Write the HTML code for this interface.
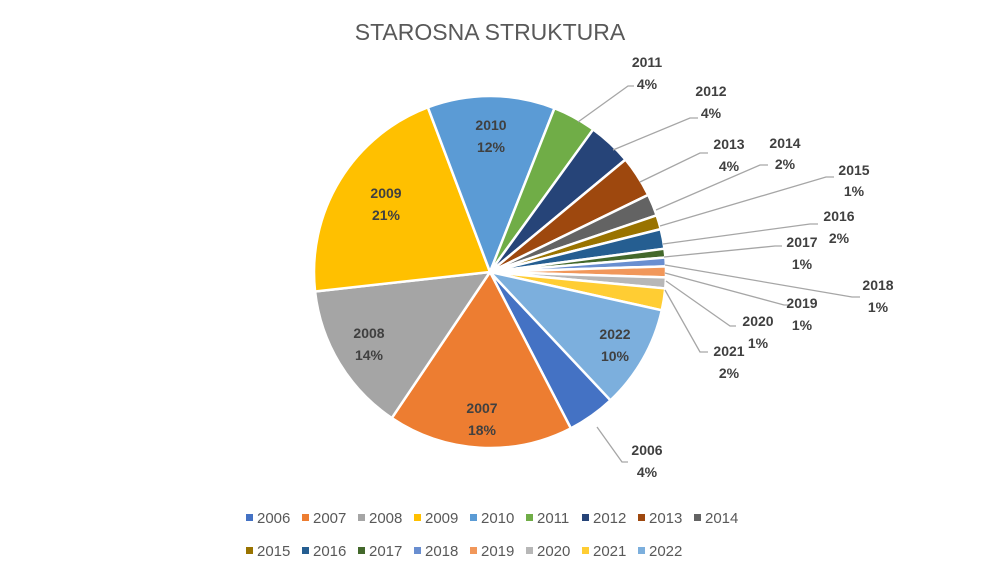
<!DOCTYPE html>
<html><head><meta charset="utf-8"><style>
body{margin:0;background:#fff;}
svg text{font-family:"Liberation Sans",sans-serif;}
</style></head><body>
<svg id="s" width="985" height="577" xmlns="http://www.w3.org/2000/svg">
<rect width="985" height="577" fill="#fff"/>
<text x="490" y="40" text-anchor="middle" font-size="23" fill="#595959">STAROSNA STRUKTURA</text>
<g id="pie"></g>
<g stroke="#a6a6a6" stroke-width="1.3" fill="none">
<polyline points="578,122 628,86 634,86"/>
<polyline points="613,150 690,118 698,118"/>
<polyline points="640,182 700,153 708,153"/>
<polyline points="656,210 760,165 768,165"/>
<polyline points="660,226 826,177 834,177"/>
<polyline points="663,244 810,224 818,224"/>
<polyline points="664,257 775,246 782,246"/>
<polyline points="665,265 852,297 860,297"/>
<polyline points="665,273 784,305 790,305"/>
<polyline points="666,281 730,326 736,326"/>
<polyline points="665,290 700,352 708,352"/>
<polyline points="597,427 622,462 628,462"/>
</g>
<g font-size="14" font-weight="bold" fill="#404040" text-anchor="middle">
<text x="647" y="67">2011</text><text x="647" y="89">4%</text>
<text x="711" y="96">2012</text><text x="711" y="118">4%</text>
<text x="729" y="149">2013</text><text x="729" y="171">4%</text>
<text x="785" y="148">2014</text><text x="785" y="169">2%</text>
<text x="854" y="175">2015</text><text x="854" y="196">1%</text>
<text x="839" y="221">2016</text><text x="839" y="243">2%</text>
<text x="802" y="247">2017</text><text x="802" y="269">1%</text>
<text x="878" y="290">2018</text><text x="878" y="312">1%</text>
<text x="802" y="308">2019</text><text x="802" y="330">1%</text>
<text x="758" y="326">2020</text><text x="758" y="348">1%</text>
<text x="729" y="356">2021</text><text x="729" y="378">2%</text>
<text x="647" y="455">2006</text><text x="647" y="477">4%</text>
<text x="491" y="130">2010</text><text x="491" y="152">12%</text>
<text x="386" y="198">2009</text><text x="386" y="220">21%</text>
<text x="369" y="338">2008</text><text x="369" y="360">14%</text>
<text x="482" y="413">2007</text><text x="482" y="435">18%</text>
<text x="615" y="339">2022</text><text x="615" y="361">10%</text>
</g>
<g id="leg" font-size="15" fill="#595959"></g>
</svg>
<script>
var v=[["2006",4.4,"#4472c4"],["2007",17,"#ed7d31"],["2008",13.8,"#a5a5a5"],["2009",21,"#ffc000"],["2010",11.7,"#5b9bd5"],["2011",4,"#70ad47"],["2012",4,"#264478"],["2013",3.8,"#9e480e"],["2014",2,"#636363"],["2015",1.3,"#997300"],["2016",1.8,"#255e91"],["2017",0.8,"#43682b"],["2018",0.8,"#698ed0"],["2019",1,"#f1975a"],["2020",1,"#b7b7b7"],["2021",2,"#ffcd33"],["2022",9.5,"#7cafdd"]];
var tot=0;v.forEach(function(d){tot+=d[1];});
var cx=490,cy=272,r=176,a=136.8,h="";
function pt(ang){var t=ang*Math.PI/180;return (cx+r*Math.sin(t)).toFixed(2)+","+(cy-r*Math.cos(t)).toFixed(2);}
v.forEach(function(d){var s=d[1]/tot*360;var e=a+s;
h+='<path d="M'+cx+','+cy+' L'+pt(a)+' A'+r+','+r+' 0 '+(s>180?1:0)+' 1 '+pt(e)+' Z" fill="'+d[2]+'" stroke="#fff" stroke-width="2.5" stroke-linejoin="round"/>';a=e;});
document.getElementById("pie").innerHTML=h;
var L="";
v.forEach(function(d,i){var x,y;if(i<9){x=246+56*i;y=518;}else{x=246+56*(i-9);y=551;}
L+='<rect x="'+x+'" y="'+(y-4)+'" width="7" height="7" fill="'+d[2]+'"/><text x="'+(x+11)+'" y="'+(y+5)+'">'+d[0]+'</text>';});
document.getElementById("leg").innerHTML=L;
</script>
</body></html>
